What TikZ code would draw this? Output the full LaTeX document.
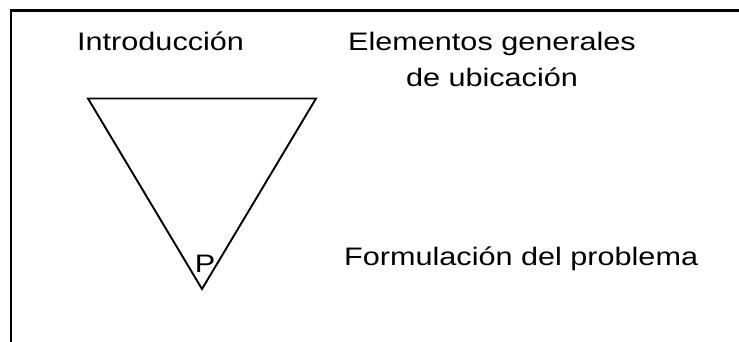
\documentclass[tikz,border=0pt]{standalone}
\usepackage{fontspec}
\setmainfont{Liberation Sans}[FakeStretch=1.21]
\begin{document}
\begin{tikzpicture}[x=1pt,y=-1pt,
  lbl/.style={inner sep=0pt, font=\fontsize{25.3}{35.5}\selectfont},
  frame/.style={line width=2.2pt},
  tri/.style={line width=1.9pt, line join=miter}]
\useasboundingbox (0,0) rectangle (739,341);
\clip (0,0) rectangle (739,341);
\draw[frame] (10.7,10.5) rectangle (780,380);
\coordinate (tl) at (88,98.5);
\coordinate (tr) at (316,98.5);
\coordinate (bt) at (202,289);
\draw[tri] (tl) -- (tr) -- (bt) -- cycle;
\node[lbl, anchor=base west] (intro) at (77,50.7) {Introducción};
\node[lbl, anchor=base, align=center] (elem) at (492,86.2) {Elementos generales\\de ubicación};
\node[lbl, anchor=base west] (form) at (344,265.7) {Formulación del problema};
\node[lbl, anchor=base] (p) at (205,272.7) {P};
\end{tikzpicture}
\end{document}
